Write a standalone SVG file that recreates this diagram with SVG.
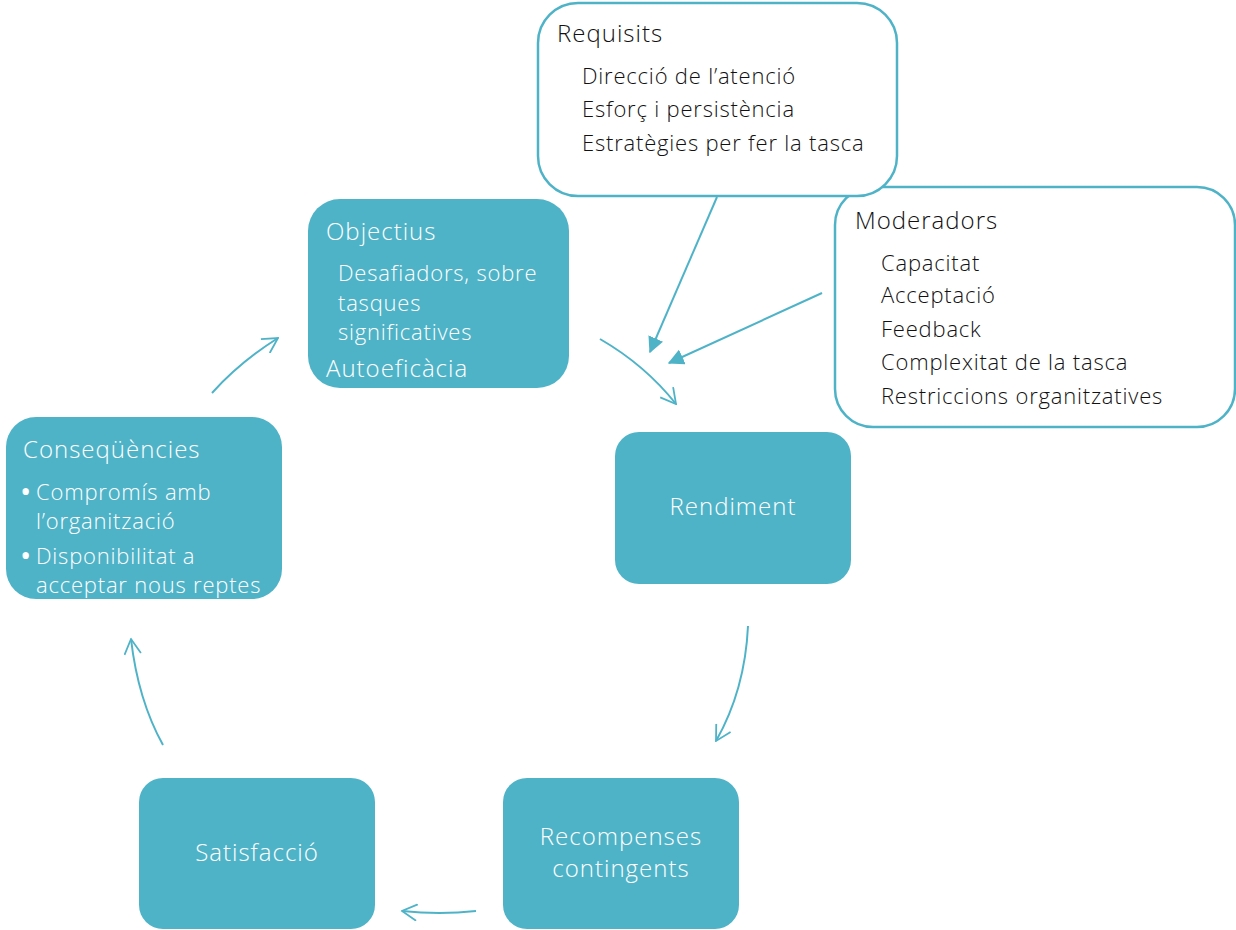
<svg xmlns="http://www.w3.org/2000/svg" width="1236" height="930" viewBox="0 0 1236 930">
<style>
.box{fill:#4FB3C8;}
.wbox{fill:#FFFFFF;stroke:#4FB3C8;stroke-width:2.5;}
.wt{font-family:"Open Sans",Lato,sans-serif;fill:#FFFFFF;font-weight:300;}
.bt{font-family:"Open Sans",Lato,sans-serif;fill:#111111;font-weight:300;}
.ti{font-size:24px;letter-spacing:1px;}
.it{font-size:22px;letter-spacing:0.8px;}
.bu{font-size:30px;font-weight:400;}
.con{fill:none;stroke:#4FB3C8;stroke-width:2;}
</style>
<defs>
<marker id="open2" viewBox="0 0 12 12" refX="11" refY="6" markerWidth="18" markerHeight="18" markerUnits="userSpaceOnUse" orient="auto">
<path d="M1,0.5 L11,6 L1,11.5" fill="none" stroke="#4FB3C8" stroke-width="1.2"/>
</marker>
<marker id="fill" viewBox="0 0 12 12" refX="11" refY="6" markerWidth="16" markerHeight="16" markerUnits="userSpaceOnUse" orient="auto">
<path d="M0,0 L12,6 L0,12 Z" fill="#4FB3C8"/>
</marker>
</defs>

<g id="moderadors">
<rect class="wbox" x="835" y="187" width="400" height="240" rx="38"/>
<text class="bt ti" x="855" y="229">Moderadors</text>
<text class="bt it" x="881" y="271">Capacitat</text>
<text class="bt it" x="881" y="303">Acceptació</text>
<text class="bt it" x="881" y="337">Feedback</text>
<text class="bt it" x="881" y="370">Complexitat de la tasca</text>
<text class="bt it" x="881" y="404">Restriccions organitzatives</text>
</g>

<g id="requisits">
<rect class="wbox" x="538" y="3" width="359" height="193" rx="40"/>
<text class="bt ti" x="557" y="42">Requisits</text>
<text class="bt it" x="582" y="84">Direcció de l’atenció</text>
<text class="bt it" x="582" y="117">Esforç i persistència</text>
<text class="bt it" x="582" y="151">Estratègies per fer la tasca</text>
</g>

<g id="objectius">
<rect class="box" x="308" y="199" width="261" height="189" rx="32"/>
<text class="wt ti" x="326" y="240">Objectius</text>
<text class="wt it" x="338" y="281">Desafiadors, sobre</text>
<text class="wt it" x="338" y="311">tasques</text>
<text class="wt it" x="338" y="340">significatives</text>
<text class="wt ti" x="326" y="377">Autoeficàcia</text>
</g>

<g id="consequencies">
<rect class="box" x="6" y="417" width="276" height="182" rx="30"/>
<text class="wt ti" x="23" y="458">Conseqüències</text>
<text class="wt bu" x="20" y="502">•</text>
<text class="wt it" x="36" y="500">Compromís amb</text>
<text class="wt it" x="36" y="529">l’organització</text>
<text class="wt bu" x="20" y="566">•</text>
<text class="wt it" x="36" y="564">Disponibilitat a</text>
<text class="wt it" x="36" y="593">acceptar nous reptes</text>
</g>

<g id="rendiment">
<rect class="box" x="615" y="432" width="236" height="152" rx="24"/>
<text class="wt ti" x="733" y="515" text-anchor="middle">Rendiment</text>
</g>

<g id="recompenses">
<rect class="box" x="503" y="778" width="236" height="151" rx="24"/>
<text class="wt ti" x="621" y="845" text-anchor="middle">Recompenses</text>
<text class="wt ti" x="621" y="877" text-anchor="middle">contingents</text>
</g>

<g id="satisfaccio">
<rect class="box" x="139" y="778" width="236" height="151" rx="24"/>
<text class="wt ti" x="257" y="861" text-anchor="middle">Satisfacció</text>
</g>

<g id="connectors">
<path class="con" d="M212,393 Q240,362 278,338" marker-end="url(#open2)"/>
<path class="con" d="M600,339 Q645,365 676,404" marker-end="url(#open2)"/>
<path class="con" d="M748,626 Q745,690 716,741" marker-end="url(#open2)"/>
<path class="con" d="M476,911 Q440,915 402,911" marker-end="url(#open2)"/>
<path class="con" d="M163,745 Q138,700 131,639" marker-end="url(#open2)"/>
<path class="con" d="M717,197 L650,352" marker-end="url(#fill)"/>
<path class="con" d="M822,293 L669,363" marker-end="url(#fill)"/>
</g>
</svg>
